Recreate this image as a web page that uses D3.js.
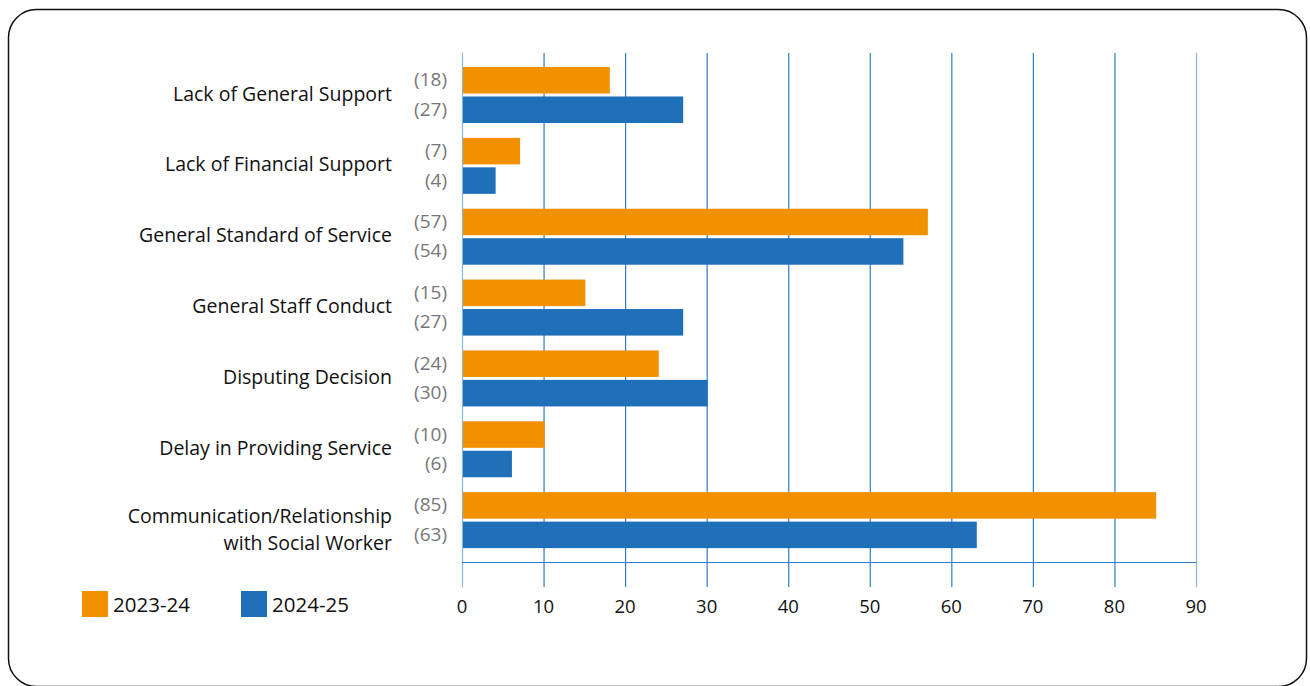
<!DOCTYPE html>
<html>
<head>
<meta charset="utf-8">
<script src="https://cdn.jsdelivr.net/npm/d3@7"></script>
<style>
  body { margin: 0; background: #fff; }
  svg { display: block; font-family: "Open Sans", "Noto Sans", sans-serif; }
</style>
</head>
<body>
<div id="chart"></div>
<script>
const categories = [
    ["Lack of General Support"],
    ["Lack of Financial Support"],
    ["General Standard of Service"],
    ["General Staff Conduct"],
    ["Disputing Decision"],
    ["Delay in Providing Service"],
    ["Communication/Relationship", "with Social Worker"]
];
const seriesNames = ["2023-24", "2024-25"];
const values2023 = [18, 7, 57, 15, 24, 10, 85];
const values2024 = [27, 4, 54, 27, 30, 6, 63];
const xTicks = [0, 10, 20, 30, 40, 50, 60, 70, 80, 90];
const colors = ["#F29100", "#1F70B8"];

const width = 1310, height = 686;

const svg = d3.select("#chart").append("svg")
    .attr("width", width)
    .attr("height", height);

// rounded card border
svg.append("rect")
    .attr("x", 8.5).attr("y", 9.5)
    .attr("width", 1298).attr("height", 677)
    .attr("rx", 28).attr("ry", 28)
    .attr("fill", "none")
    .attr("stroke", "#111")
    .attr("stroke-width", 1.5);

const x = d3.scaleLinear().domain([0, 90]).range([462, 1196]);

const y0 = d3.scaleBand()
    .domain(d3.range(categories.length))
    .range([66, 562]);

const y1 = d3.scaleBand()
    .domain([0, 1])
    .range([1, 57])
    .paddingInner(0.1);

// gridlines
svg.append("g").selectAll("line")
    .data(xTicks)
    .join("line")
    .attr("x1", d => x(d) + 0.5).attr("x2", d => x(d) + 0.5)
    .attr("y1", 53).attr("y2", 587)
    .attr("stroke", (d, i) => (i === 0 || i === xTicks.length - 1) ? "#86B6E0" : "#2F7CC4")
    .attr("stroke-width", 1.2);

// bottom horizontal line of plot area
svg.append("line")
    .attr("x1", x(0)).attr("x2", x(90))
    .attr("y1", 562.5).attr("y2", 562.5)
    .attr("stroke", "#2F7CC4")
    .attr("stroke-width", 1.2);

const rows = categories.map((c, i) => ({ i, label: c, vals: [values2023[i], values2024[i]] }));

const groups = svg.append("g").selectAll("g")
    .data(rows)
    .join("g")
    .attr("transform", d => `translate(0,${y0(d.i)})`);

groups.selectAll("rect")
    .data(d => d.vals.map((v, s) => ({ v, s })))
    .join("rect")
    .attr("x", x(0) + 1)
    .attr("y", d => y1(d.s))
    .attr("width", d => x(d.v) - x(0))
    .attr("height", y1.bandwidth())
    .attr("fill", d => colors[d.s]);

groups.selectAll("text.val")
    .data(d => d.vals.map((v, s) => ({ v, s })))
    .join("text")
    .attr("class", "val")
    .attr("x", 447)
    .attr("y", d => y1(d.s) + y1.bandwidth() / 2 - 1)
    .attr("text-anchor", "end")
    .attr("dominant-baseline", "central")
    .attr("fill", "#777")
    .attr("font-size", 19)
    .text(d => `(${d.v})`);

// category labels, one text element per line
groups.selectAll("text.cat")
    .data(d => d.label.map((t, i) => ({ t, i, n: d.label.length })))
    .join("text")
    .attr("class", "cat")
    .attr("x", 392)
    .attr("y", d => d.n > 1 ? 24 + d.i * 27 : 27)
    .attr("text-anchor", "end")
    .attr("dominant-baseline", "central")
    .attr("font-size", 19.5)
    .attr("fill", "#111")
    .text(d => d.t);

// x axis tick labels
svg.append("g").selectAll("text")
    .data(xTicks)
    .join("text")
    .attr("x", d => x(d))
    .attr("y", 605)
    .attr("text-anchor", "middle")
    .attr("dominant-baseline", "central")
    .attr("font-size", 18.5)
    .attr("fill", "#111")
    .text(d => d);

// legend
const legend = svg.append("g").selectAll("g")
    .data(seriesNames)
    .join("g")
    .attr("transform", (d, i) => `translate(${82 + i * 159},591)`);

legend.append("rect")
    .attr("width", 26).attr("height", 26)
    .attr("fill", (d, i) => colors[i]);

legend.append("text")
    .attr("x", 31).attr("y", 13)
    .attr("dominant-baseline", "central")
    .attr("font-size", 20.5)
    .attr("fill", "#111")
    .text(d => d);
</script>
</body>
</html>
